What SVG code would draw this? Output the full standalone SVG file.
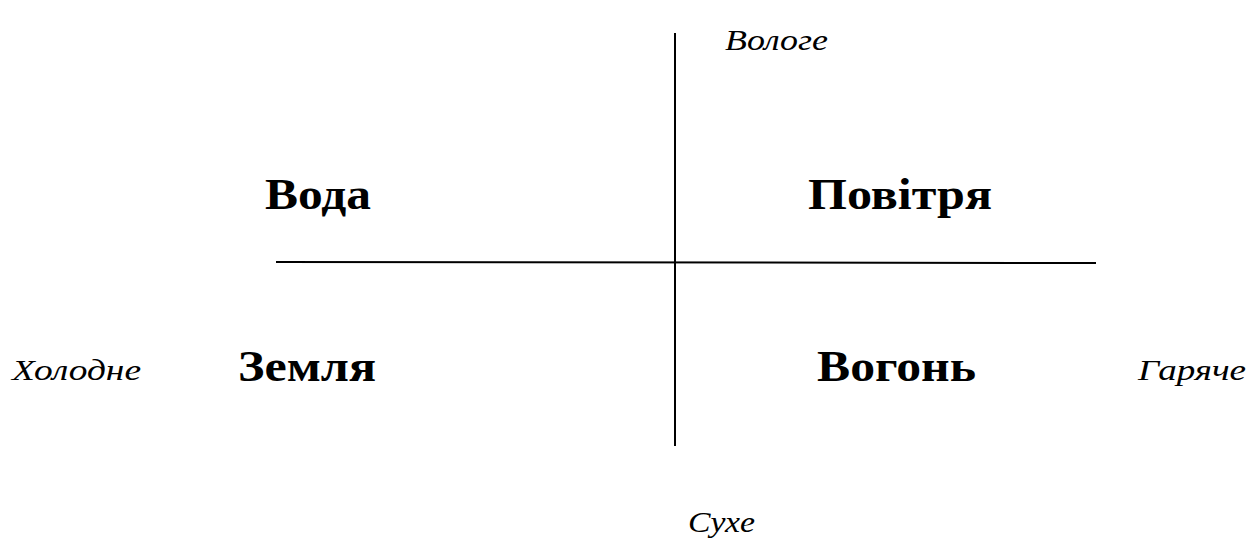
<svg xmlns="http://www.w3.org/2000/svg" width="1249" height="544" viewBox="0 0 1249 544">
<style>
.lbl{font-family:"Liberation Serif","Times New Roman",serif;font-weight:bold;font-size:44px;fill:#000}
.ax{font-family:"Liberation Serif","Times New Roman",serif;font-style:italic;font-size:30px;fill:#000}
.ln{stroke:#000;stroke-width:2;fill:none}
</style>
<rect width="1249" height="544" fill="#fff"/>
<g id="connectors">
<line class="ln" x1="675" y1="33" x2="675" y2="446"/>
<line class="ln" x1="276" y1="262" x2="1096" y2="263"/>
</g>
<g id="voda"><text class="lbl" x="265" y="209" textLength="106" lengthAdjust="spacingAndGlyphs">Вода</text></g>
<g id="povitria"><text class="lbl" x="808" y="209" textLength="184" lengthAdjust="spacingAndGlyphs">Повітря</text></g>
<g id="zemlia"><text class="lbl" x="238" y="381" textLength="138" lengthAdjust="spacingAndGlyphs">Земля</text></g>
<g id="vohon"><text class="lbl" x="817" y="381" textLength="159" lengthAdjust="spacingAndGlyphs">Вогонь</text></g>
<g id="vologe"><text class="ax" x="725" y="50" textLength="103" lengthAdjust="spacingAndGlyphs">Вологе</text></g>
<g id="kholodne"><text class="ax" x="12" y="380" textLength="129" lengthAdjust="spacingAndGlyphs">Холодне</text></g>
<g id="hariache"><text class="ax" x="1138" y="380" textLength="108" lengthAdjust="spacingAndGlyphs">Гаряче</text></g>
<g id="sukhe"><text class="ax" x="688" y="532" textLength="67" lengthAdjust="spacingAndGlyphs">Сухе</text></g>
</svg>
